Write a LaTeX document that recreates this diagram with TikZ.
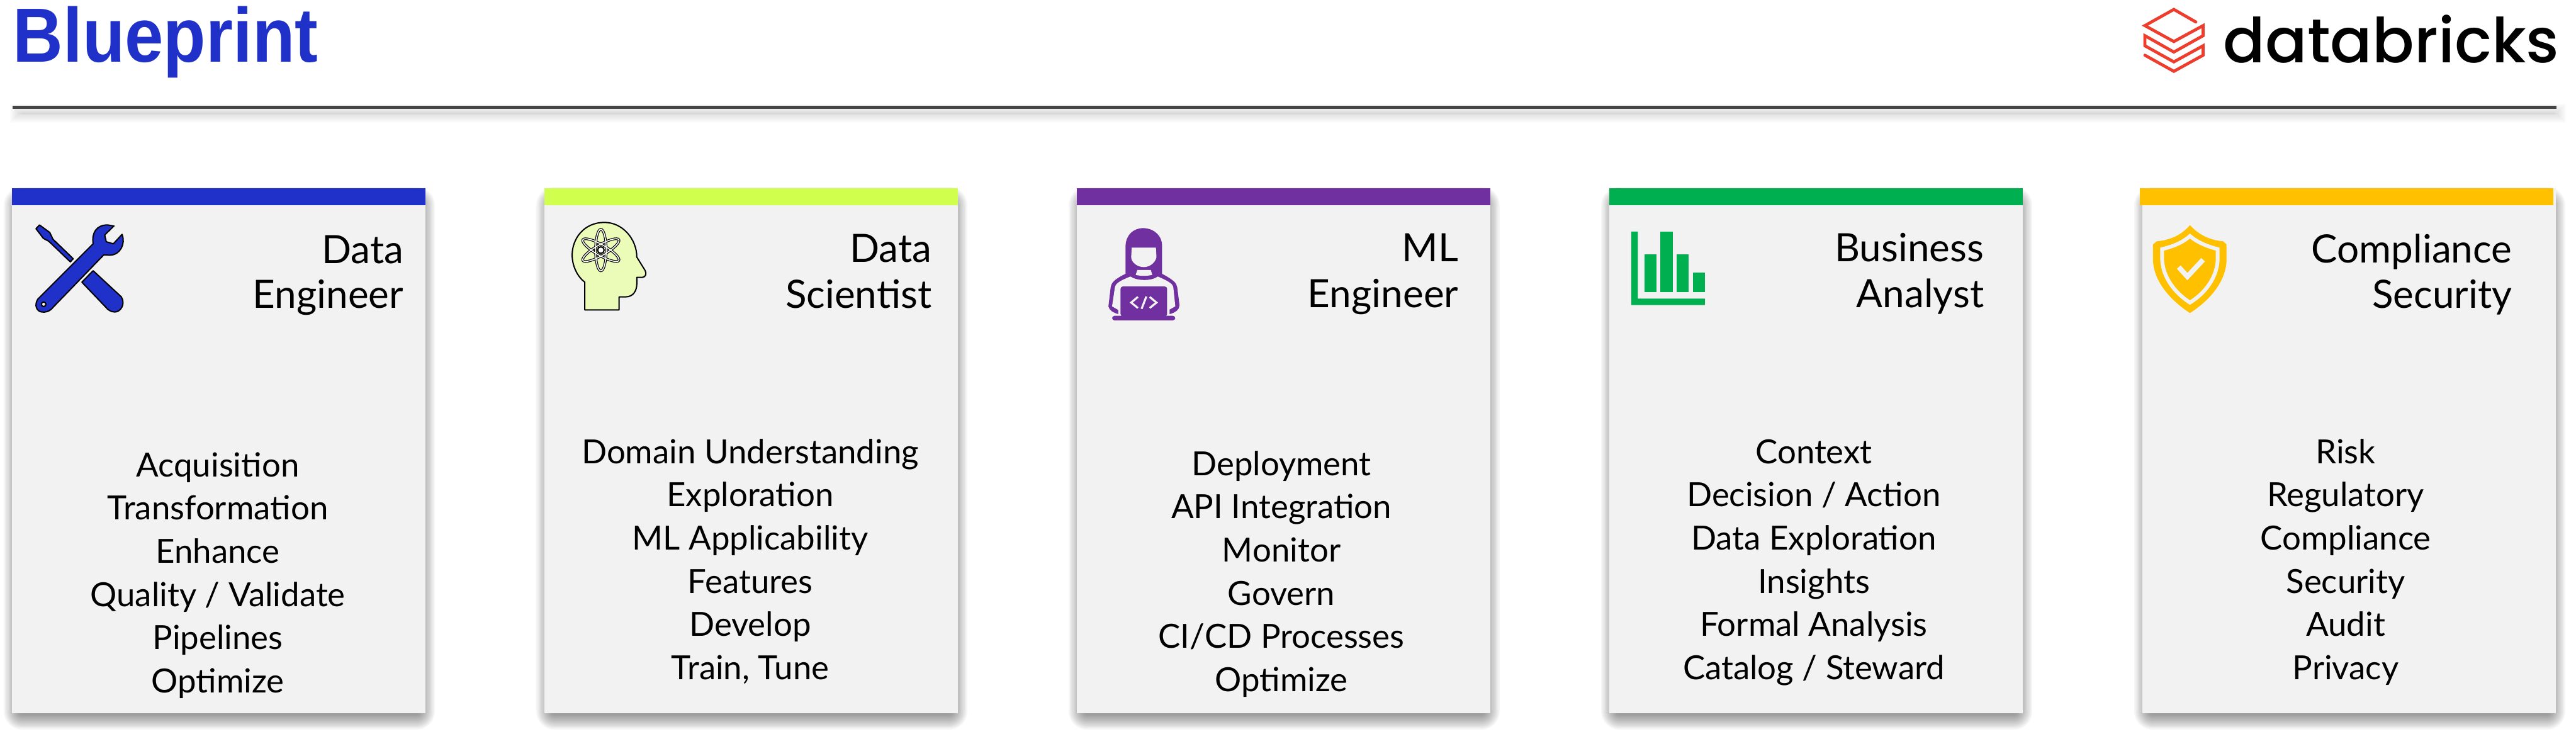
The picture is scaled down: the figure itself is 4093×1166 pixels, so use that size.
\documentclass[tikz,border=0pt]{standalone}
\usepackage{fontspec}
\setmainfont{Lato}
\newfontfamily\titlefont{Liberation Sans}[Scale=1]
\newfontfamily\logofont{Poppins Medium}
\usetikzlibrary{calc}
\definecolor{cardgray}{HTML}{F2F2F2}
\definecolor{bpblue}{HTML}{1F31C8}
\definecolor{bplime}{HTML}{D0FF4D}
\definecolor{bppurple}{HTML}{7030A0}
\definecolor{bpgreen}{HTML}{00B050}
\definecolor{bpamber}{HTML}{FFC000}
\definecolor{bpred}{HTML}{EE3D2C}
\definecolor{headlime}{HTML}{EBFBB8}
\tikzset{
  bodytext/.style={anchor=base,inner sep=0pt,font=\fontsize{13.2}{13.2}\selectfont},
  roletext/.style={anchor=base east,inner sep=0pt,font=\fontsize{15.5}{15.5}\selectfont},
  cardface/.style={fill=cardgray,draw=none},
  zoomA/.style={shift={(#1)},xscale=0.5102,yscale=0.3333},
  zoomB/.style={shift={(#1)},xscale=0.4464,yscale=0.3333},
  zoomC/.style={shift={(#1)},xscale=0.4545,yscale=0.3333},
}
% #1 left, #2 top, #3 right, #4 bottom
\newcommand{\softshadow}[4]{%
  \foreach \r in {-14,-12,...,14}{
    \fill[black,fill opacity=0.034,rounded corners={(\r+15)*0.25pt}]
      ({#1-\r+1},{#2-\r+12}) rectangle ({#3+\r+1},{#4+\r+12});
  }}
\newcommand{\rolecard}[6]{%
  \softshadow{#2}{299}{#2+657}{1133}
  \path[cardface] (#2,299) rectangle (#2+657,1133);
  \fill[#4] (#3,299) rectangle (#3+657,326.5);
}
\begin{document}
\begin{tikzpicture}[x=0.25pt,y=-0.25pt]
\useasboundingbox (0,0) rectangle (4093,1166);
\fill[white] (0,0) rectangle (4093,1166);

% title and rule
\foreach \r in {-9,-7,...,9}{
  \fill[black,fill opacity=0.014] ({25-\r},{174-\r}) rectangle ({4068+\r},{186+\r});
}
\draw[line width=1.25pt,draw=black!73] (19.5,170.5) -- (4062,170.5);
\node[anchor=base west,inner sep=0pt,text=bpblue,xscale=0.905,transform shape,font=\titlefont\bfseries\fontsize{30.5}{30.5}\selectfont] (title) at (20,98.5) {Blueprint};

% logo
\draw[bpred,line width=1.2pt,line cap=round,line join=miter]
  (3489,35) -- (3454,15) -- (3408,40.7) -- (3454,66) -- (3500.5,40.7) -- (3500.5,56.7) -- (3454,82.7) -- (3408,56.7) -- (3408,72.7) -- (3454,98.3) -- (3500.5,72.7) -- (3500.5,87.7) -- (3454,113.3) -- (3408,87.7);
\node[anchor=base west,inner sep=0pt,font=\logofont\fontsize{24.6}{24.6}\selectfont] (logo) at (3532,100) {databricks};

% cards
\rolecard{c1}{19}{19}{bpblue}{}{}
\rolecard{c2}{865}{865}{bplime}{}{}
\rolecard{c3}{1711}{1711}{bppurple}{}{}
\rolecard{c4}{2557}{2557}{bpgreen}{}{}
\rolecard{c5}{3404}{3400}{bpamber}{}{}

% role names
\node[roletext] (r1a) at (642,418) {Data};
\node[roletext] (r1b) at (642,489) {Engineer};
\node[roletext] (r2a) at (1481,416) {Data};
\node[roletext] (r2b) at (1481,489) {Scientist};
\node[roletext] (r3a) at (2318,415) {ML};
\node[roletext] (r3b) at (2318,488) {Engineer};
\node[roletext] (r4a) at (3153,415) {Business};
\node[roletext] (r4b) at (3153,488) {Analyst};
\node[roletext] (r5a) at (3992,417) {Compliance};
\node[roletext] (r5b) at (3992,489) {Security};

% activity lists
\foreach \t [count=\i] in {Acquisition,Transformation,Enhance,Quality / Validate,Pipelines,Optimize}
  \node[bodytext] (a\i) at (346,{757+(\i-1)*68.7}) {\t};
\foreach \t [count=\i] in {Domain Understanding,Exploration,ML Applicability,Features,Develop,{Train, Tune}}
  \node[bodytext] (b\i) at (1192,{736+(\i-1)*68.7}) {\t};
\foreach \t [count=\i] in {Deployment,API Integration,Monitor,Govern,CI/CD Processes,Optimize}
  \node[bodytext] (d\i) at (2036,{755+(\i-1)*68.7}) {\t};
\foreach \t [count=\i] in {Context,Decision / Action,Data Exploration,Insights,Formal Analysis,Catalog / Steward}
  \node[bodytext] (e\i) at (2882,{736+(\i-1)*68.7}) {\t};
\foreach \t [count=\i] in {Risk,Regulatory,Compliance,Security,Audit,Privacy}
  \node[bodytext] (f\i) at (3727,{736+(\i-1)*68.7}) {\t};

% wrench and screwdriver
\begin{scope}[zoomA={0,280}]
  \begin{scope}[fill=bpblue,draw=black,line width=0.5pt,line join=round]
  \filldraw (123,232) -- (155,268) -- (165,300) -- (228,393) -- (219,408) -- (152,310) -- (135,296) -- (112,250) -- cycle;
  \filldraw (290,450) -- (378,575) .. controls (392,610) and (375,648) .. (357,647) .. controls (345,647) and (335,635) .. (330,625) -- (255,505) -- cycle;
  \filldraw (290,322) .. controls (285,270) and (300,232) .. (335,232) -- (355,237) -- (326,280) -- (331,312) -- (353,322) -- (380,277) .. controls (392,320) and (375,378) .. (340,376) -- (323,375) -- (165,625) .. controls (155,645) and (140,650) .. (130,647) .. controls (115,645) and (105,615) .. (118,585) -- cycle;
  \draw[fill=cardgray] (136,610) ellipse [x radius=7,y radius=11];
  \end{scope}
\end{scope}

% head with atom
\begin{scope}[zoomB={860,280}]
  \filldraw[fill=headlime,draw=black,line width=0.5pt,line join=round]
    (155,505) -- (155,637) -- (277,637) -- (277,575) -- (300,575) .. controls (330,575) and (340,540) .. (340,515) -- (340,482) -- (360,482) .. controls (372,480) and (375,465) .. (370,450) -- (340,385) .. controls (340,300) and (290,220) .. (225,220) .. controls (150,220) and (110,300) .. (110,375) .. controls (110,430) and (130,480) .. (155,505) -- cycle;
\end{scope}
\coordinate (atom) at (954.7,397.3);
\foreach \a in {0,60,120}{
  \draw[black,line width=1pt,rotate around={\a:(atom)}] (atom) ellipse [x radius=8.5,y radius=33];
}
\foreach \a in {0,60,120}{
  \draw[white,line width=0.4pt,rotate around={\a:(atom)}] (atom) ellipse [x radius=8.5,y radius=33];
}
\draw[black,line width=0.5pt,fill=white] (atom) circle [radius=5.2];

% engineer with laptop
\begin{scope}[zoomB={1700,280}]
  \fill[bppurple] (198,468) -- (198,330) .. controls (200,280) and (225,247) .. (262,247) .. controls (305,250) and (328,290) .. (328,330) -- (328,468) -- cycle;
  \fill[bppurple] (198,465) .. controls (160,490) and (148,505) .. (145,530) -- (137,620) .. controls (140,640) and (155,650) .. (172,657) -- (355,657) .. controls (375,650) and (390,635) .. (390,615) -- (382,530) .. controls (380,510) and (370,495) .. (328,465) -- cycle;
  \fill[cardgray] (215,478) .. controls (240,500) and (290,500) .. (313,478) .. controls (345,497) and (366,510) .. (368,530) -- (375,620) -- (355,635) -- (355,670) -- (172,670) -- (172,637) -- (150,620) -- (160,530) .. controls (162,510) and (180,497) .. (215,478) -- cycle;
  \fill[cardgray] (220,340) -- (306,340) -- (308,385) .. controls (305,410) and (285,433) .. (263,433) .. controls (240,433) and (218,410) .. (218,385) -- cycle;
  \fill[cardgray] (240,447) -- (288,447) -- (293,470) .. controls (275,476) and (250,476) .. (234,470) -- cycle;
  \fill[bppurple,rounded corners=1pt] (180,525) rectangle (346,668);
  \fill[bppurple,rounded corners=1pt] (150,665) rectangle (375,687);
  \draw[cardgray,line width=0.8pt] (242,575) -- (218,602) -- (242,628);
  \draw[cardgray,line width=0.8pt] (284,575) -- (308,602) -- (284,628);
  \draw[cardgray,line width=0.8pt] (272,573) -- (255,632);
\end{scope}

% bar chart
\begin{scope}[zoomB={2550,280}]
  \fill[bpgreen] (94,264) -- (117,264) -- (117,583) -- (356,583) -- (356,614) -- (94,614) -- cycle;
  \fill[bpgreen] (140,372) rectangle (183,552);
  \fill[bpgreen] (198,264) rectangle (241,552);
  \fill[bpgreen] (255,372) rectangle (298,552);
  \fill[bpgreen] (314,460) rectangle (356,552);
\end{scope}

% shield
\begin{scope}[zoomC={3380,280}]
  \fill[bpamber,line join=round] (219,233) .. controls (250,280) and (290,305) .. (335,310) -- (347,325) -- (347,400) .. controls (345,500) and (290,590) .. (219,652) .. controls (150,590) and (92,500) .. (90,400) -- (90,325) -- (103,310) .. controls (150,305) and (190,280) .. (219,233) -- cycle;
  \draw[cardgray,line width=1.5pt,line join=miter] (219,285) .. controls (245,315) and (280,335) .. (316,347) -- (316,400) .. controls (313,480) and (275,555) .. (219,602) .. controls (165,555) and (125,480) .. (122,400) -- (122,347) .. controls (160,335) and (195,315) .. (219,285) -- cycle;
  \draw[cardgray,line width=2pt] (180,433) -- (210,478) -- (265,398);
\end{scope}
\end{tikzpicture}
\end{document}
